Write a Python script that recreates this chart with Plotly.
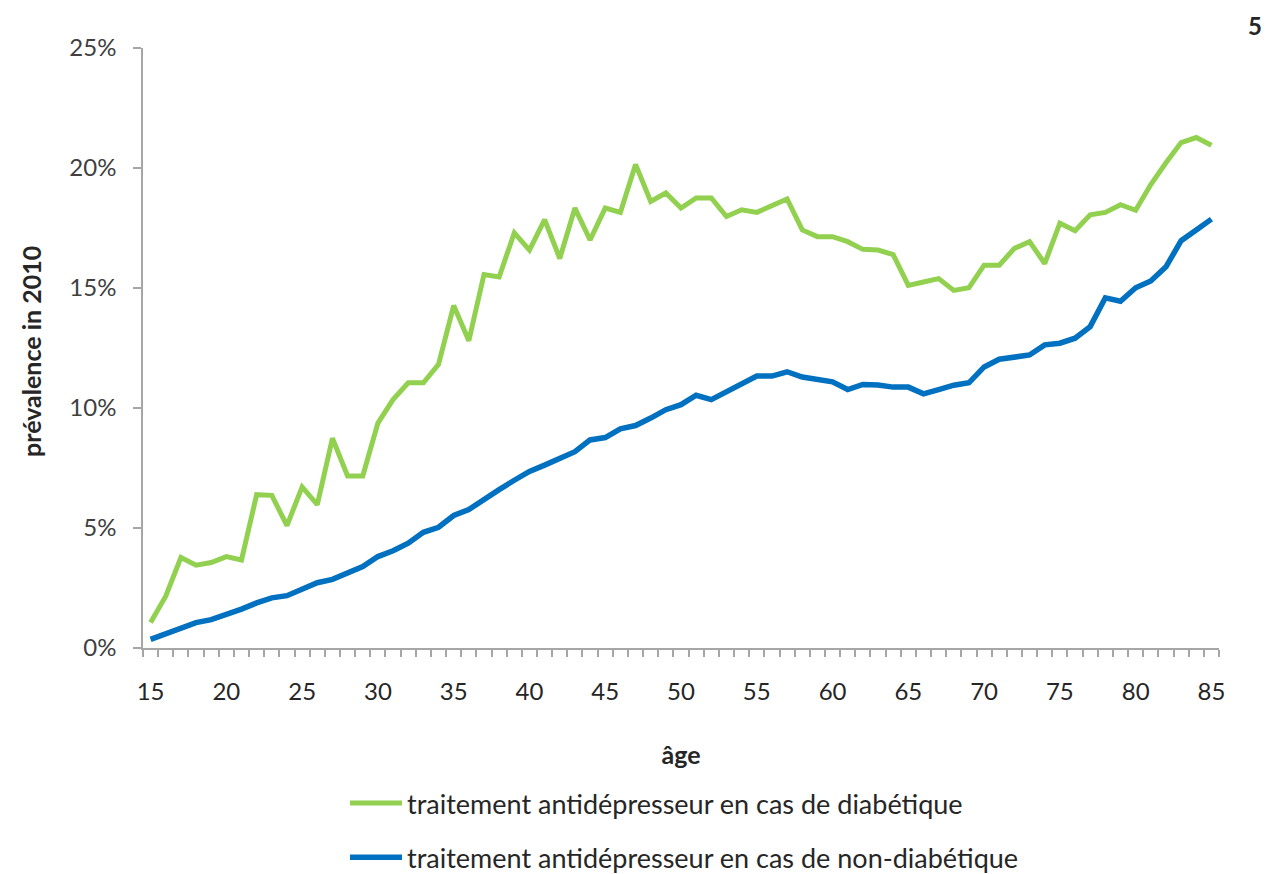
import plotly.graph_objects as go

ages = list(range(15, 86))

diabetique = [
    1.06, 2.16, 3.77, 3.45, 3.56, 3.81, 3.67, 6.39, 6.36, 5.10,
    6.71, 5.97, 8.74, 7.17, 7.17, 9.37, 10.35, 11.05, 11.05, 11.82,
    14.27, 12.80, 15.56, 15.46, 17.30, 16.58, 17.85, 16.23, 18.33, 17.00,
    18.33, 18.15, 20.15, 18.61, 18.96, 18.33, 18.75, 18.75, 17.98, 18.26,
    18.15, 18.43, 18.71, 17.42, 17.14, 17.14, 16.93, 16.61, 16.58, 16.39,
    15.11, 15.25, 15.39, 14.90, 15.01, 15.95, 15.95, 16.65, 16.93, 16.02,
    17.70, 17.39, 18.05, 18.15, 18.47, 18.24, 19.31, 20.22, 21.06, 21.27,
    20.95,
]

non_diabetique = [
    0.36, 0.59, 0.87, 1.06, 1.18, 1.39, 1.62, 1.88, 2.09, 2.18,
    2.46, 2.72, 2.86, 3.11, 3.39, 3.81, 4.05, 4.37, 4.82, 5.03,
    5.52, 5.77, 6.22, 6.60, 6.99, 7.36, 7.62, 7.90, 8.18, 8.67,
    8.77, 9.13, 9.27, 9.58, 9.93, 10.14, 10.53, 10.35, 10.67, 10.98,
    11.33, 11.33, 11.51, 11.29, 11.19, 11.09, 10.77, 10.98, 10.96, 10.87,
    10.87, 10.59, 10.77, 10.95, 11.05, 11.71, 12.03, 12.10, 12.21, 12.63,
    12.70, 12.91, 13.39, 14.59, 14.45, 15.01, 15.29, 15.88, 16.97, 17.42,
    17.87,
]

x_tick_vals = [15, 20, 25, 30, 35, 40, 45, 50, 55, 60, 65, 70, 75, 80, 85]
y_tick_vals = [0, 5, 10, 15, 20, 25]
y_tick_text = ["0%", "5%", "10%", "15%", "20%", "25%"]

FONT = "Lato"
AXIS_GRAY = "#A6A6A6"
TEXT = "#404040"
DARK = "#262626"

# page body adds an 8px offset; figure is sized/placed to compensate
OFF = 8
W, H = 1278 - OFF, 874 - OFF
ML, MT = 143 - OFF, 48 - OFF
MR = 1278 - 1219
MB = H - (648 - OFF)
PW, PH = W - ML - MR, H - MT - MB


def px_x(x):
    return (x - OFF - ML) / PW


def px_y(y):
    return (H - MB - (y - OFF)) / PH


fig = go.Figure()
fig.add_trace(go.Scatter(
    x=ages, y=diabetique, mode="lines",
    name="traitement antidépresseur en cas de diabétique",
    line=dict(color="#92D050", width=5),
    legendgroup="a",
))
fig.add_trace(go.Scatter(
    x=ages, y=non_diabetique, mode="lines",
    name="traitement antidépresseur en cas de non-diabétique",
    line=dict(color="#0070C0", width=5.5),
    legendgroup="b",
))

fig.update_layout(
    width=W, height=H,
    paper_bgcolor="white", plot_bgcolor="white",
    margin=dict(l=ML, r=MR, t=MT, b=MB, autoexpand=False),
    font=dict(family=FONT, color=TEXT, size=24),
    showlegend=True,
    legend=dict(
        orientation="v",
        xref="container", yref="container",
        x=(345 - OFF) / W, xanchor="left",
        y=1 - (779 - OFF) / H, yanchor="top",
        font=dict(family=FONT, size=27, color=DARK),
        tracegroupgap=16,
        itemwidth=52,
        bgcolor="rgba(0,0,0,0)",
    ),
    annotations=[
        dict(text="<b>5</b>", x=px_x(1255), y=px_y(25),
             xref="paper", yref="paper",
             showarrow=False, font=dict(size=24, color=DARK, family=FONT),
             xanchor="center", yanchor="middle"),
        dict(text="<b>prévalence in 2010</b>", x=px_x(31), y=px_y(352),
             xref="paper", yref="paper", textangle=-90,
             showarrow=False, font=dict(size=25, color=DARK, family=FONT),
             xanchor="center", yanchor="middle"),
    ],
)

fig.update_xaxes(
    range=[14.5, 85.5],
    tickvals=x_tick_vals,
    ticktext=[str(v) for v in x_tick_vals],
    ticks="",
    automargin=True,
    showgrid=False, zeroline=False,
    showline=True, linecolor=AXIS_GRAY, linewidth=1.5,
    tickfont=dict(size=24, color=DARK),
    ticklabelstandoff=21,
    minor=dict(tick0=14.5, dtick=1, ticks="outside", ticklen=7,
               tickcolor=AXIS_GRAY, tickwidth=1.5, showgrid=False),
    title=dict(text="<b>âge</b>", font=dict(size=25, color=DARK), standoff=43),
)
fig.update_yaxes(
    range=[0, 25],
    tickvals=y_tick_vals,
    ticktext=y_tick_text,
    ticks="outside", ticklen=8, tickcolor=AXIS_GRAY, tickwidth=1.5,
    automargin=True,
    showgrid=False, zeroline=False,
    showline=True, linecolor=AXIS_GRAY, linewidth=1.5,
    tickfont=dict(size=24, color=TEXT),
    ticklabelstandoff=12,
)

fig.write_html("out.html")
